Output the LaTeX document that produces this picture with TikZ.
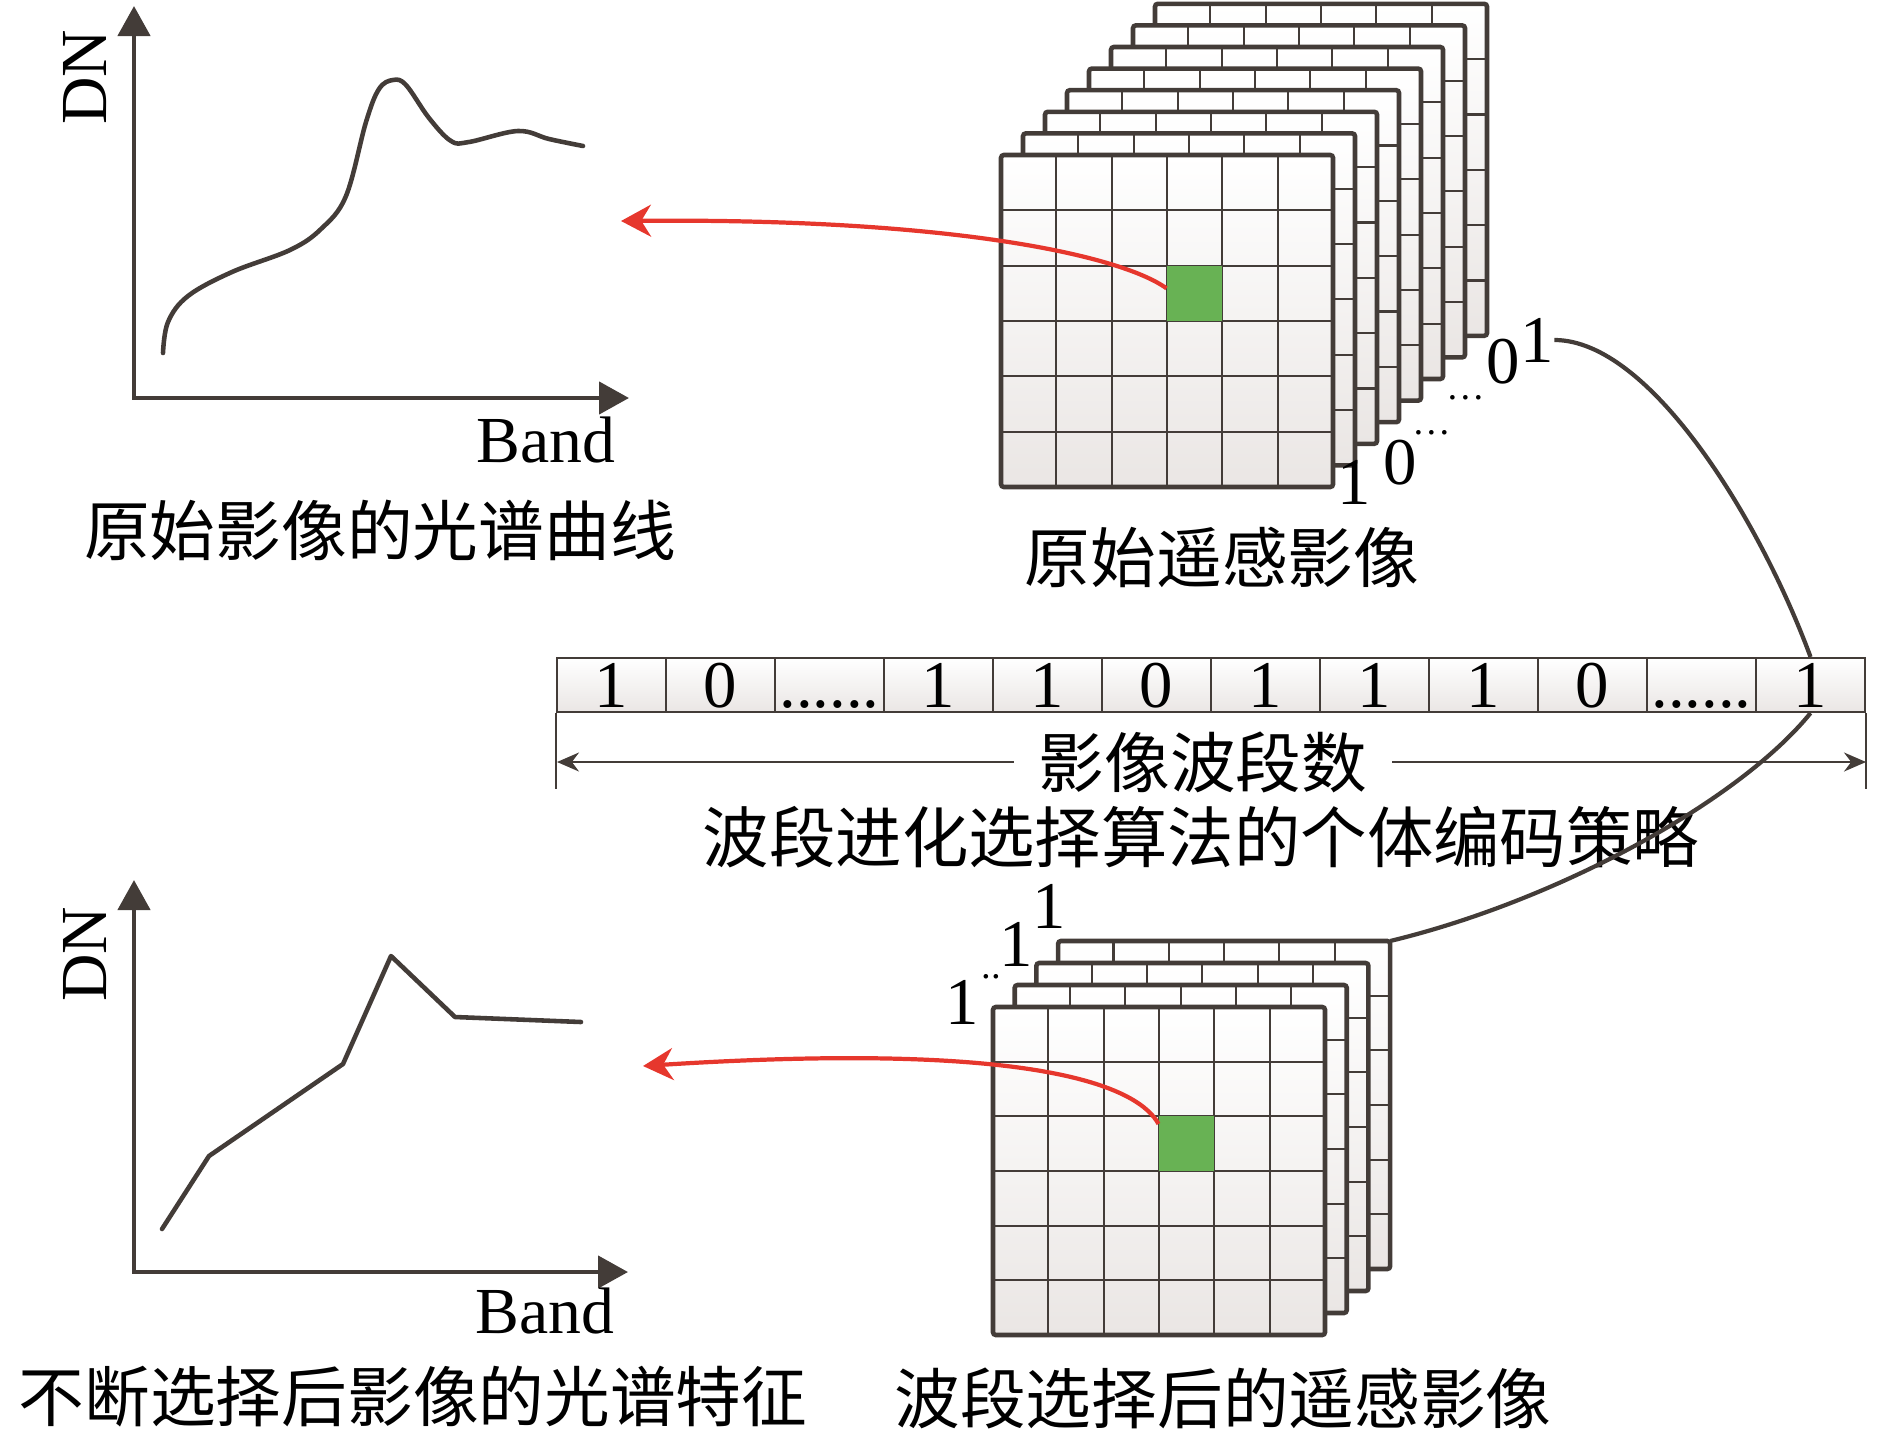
\documentclass[tikz,border=0pt]{standalone}
\usepackage{fontspec}
\setmainfont{Liberation Serif}
\newfontfamily\cjk{Noto Sans CJK SC}
\usepackage{tikz}
\usetikzlibrary{arrows.meta, calc}
\definecolor{inkgray}{RGB}{67,60,56}
\definecolor{cellgray}{RGB}{234,230,228}
\definecolor{pixgreen}{RGB}{104,178,84}
\definecolor{arrowred}{RGB}{230,55,45}
\newcommand{\captxt}{\fontsize{18.7}{20}\selectfont\cjk}
\newcommand{\digtxt}{\fontsize{19}{20}\selectfont}
\newcommand{\dottxt}{\fontsize{11}{11}\selectfont}
\newcommand{\sixdots}{......}

\begin{document}
\begin{tikzpicture}[x=0.1mm, y=-0.1mm,
  axis/.style={inkgray, line width=1.3pt, {Triangle[length=3mm, width=3.2mm]}-{Triangle[length=3mm, width=3.2mm]}},
  spec/.style={inkgray, line width=1.3pt, line cap=round, line join=round},
  frame/.style={inkgray, line width=1.3pt, rounded corners=0.8pt},
  gridline/.style={inkgray, line width=0.6pt},
  pix/.style={fill=pixgreen, minimum width=5.5mm, minimum height=5.5mm, inner sep=0pt},
  redarrow/.style={arrowred, line width=1.2pt, -{Stealth[length=3mm, width=3.2mm]}},
  link/.style={inkgray, line width=1.2pt},
  cell/.style={draw=inkgray, line width=0.6pt, top color=white, bottom color=cellgray,
    minimum width=10.9mm, minimum height=5.4mm, inner sep=0pt, text height=4.5mm, text depth=0pt, font=\digtxt},
  dim/.style={inkgray, line width=0.6pt},
  tag/.style={inner sep=0pt, font=\digtxt},
  captext/.style={font=\captxt, inner sep=0pt},
  axlabel/.style={font=\fontsize{18.7}{20}\selectfont},
]
  \useasboundingbox (0,0) rectangle (1890,1436);

  % 原始影像的光谱曲线
  \coordinate (o1) at (134,398);
  \coordinate (y1) at (134,6);
  \coordinate (x1) at (629,398);
  \draw[axis] (y1) -- (o1) -- (x1);
  \draw[spec] plot[smooth, tension=0.6] coordinates {(163,353) (168,322) (188,296) (232,272)
    (290,250) (321,229) (346,196) (366,122) (379,89) (393,80) (406,85) (429,118) (451,141)
    (469,142) (518,131) (549,139) (583,146)};
  \node[axlabel, rotate=90] (dn1) at (85,77) {DN};
  \node[axlabel] (band1) at (546,440) {Band};
  \node[captext] (cap1) at (380,530) {原始影像的光谱曲线};

  % 不断选择后影像的光谱特征
  \coordinate (o2) at (134,1272);
  \coordinate (y2) at (134,880);
  \coordinate (x2) at (628,1272);
  \draw[axis] (y2) -- (o2) -- (x2);
  \draw[spec] (162,1229) -- (209,1156) -- (343,1064) -- (391,956) -- (455,1017) -- (581,1022);
  \node[axlabel, rotate=90] (dn2) at (85,954) {DN};
  \node[axlabel] (band2) at (545,1311) {Band};
  \node[captext] (cap4) at (413,1397) {不断选择后影像的光谱特征};

  % 原始遥感影像（8 层）
  \foreach \i in {7,6,...,0}{
    \begin{scope}[shift={({1001+22*\i},{155-21.6*\i})}]
      \fill[top color=white, bottom color=cellgray] (0,0) rectangle (332,332);
      \foreach \k in {1,...,5}{
        \draw[gridline] ({55.33*\k},0) -- ({55.33*\k},332);
        \draw[gridline] (0,{55.33*\k}) -- (332,{55.33*\k});
      }
      \draw[frame] (0,0) rectangle (332,332);
      \coordinate (up\i) at (332,0);
    \end{scope}
  }
  \node[pix] (gtop) at (1194.7,293.3) {};
  \node[captext] (cap2) at (1222,557) {原始遥感影像};

  % 波段标记
  \node[tag] (s1) at (1354,482) {1};
  \node[tag] (s2) at (1400,463) {0};
  \node[tag, anchor=base, font=\dottxt] (s3) at (1432,434) {\ldots};
  \node[tag, anchor=base, font=\dottxt] (s4) at (1466,399) {\ldots};
  \node[tag] (s5) at (1503,362) {0};
  \node[tag] (s6) at (1537,340) {1};

  % 波段选择后的遥感影像（4 层）
  \foreach \i in {3,2,1,0}{
    \begin{scope}[shift={({993+21.7*\i},{1007-22*\i})}]
      \fill[top color=white, bottom color=cellgray] (0,0) rectangle (332,328);
      \foreach \k in {1,...,5}{
        \draw[gridline] ({55.33*\k},0) -- ({55.33*\k},328);
        \draw[gridline] (0,{54.67*\k}) -- (332,{54.67*\k});
      }
      \draw[frame] (0,0) rectangle (332,328);
      \coordinate (lo\i) at (332,0);
    \end{scope}
  }
  \node[pix] (gbot) at (1186.7,1143.7) {};
  \node[captext] (cap5) at (1223,1398) {波段选择后的遥感影像};

  \node[tag] (l1) at (962,1002) {1};
  \node[tag, anchor=base, font=\dottxt] (l2) at (991,978) {..};
  \node[tag] (l3) at (1016,944) {1};
  \node[tag] (l4) at (1049,906) {1};

  % 个体编码
  \foreach \v [count=\i] in {1,0,\sixdots,1,1,0,1,1,1,0,\sixdots,1}
    \node[cell] (b\i) at ({502.5+109*\i},685) {\v};

  \draw[dim] (b1.south west) -- ++(0,76);
  \draw[dim] (b12.south east) -- ++(0,76);
  \coordinate (dl) at (557,762);
  \coordinate (dr) at (1866,762);
  \draw[dim, {Stealth[length=2.2mm, width=1.9mm]}-{Stealth[length=2.2mm, width=1.9mm]}] (dl) -- (dr);
  \node[captext, fill=white, inner xsep=2.5mm, inner ysep=0.5mm] (nb) at (1203,762) {影像波段数};
  \node[captext, font=\fontsize{18.9}{20}\selectfont\cjk] (cap3) at (1201,837) {波段进化选择算法的个体编码策略};

  % 连线
  \draw[link] (s6.east) .. controls (1650,340) and (1760,520) .. (b12.north);
  \draw[link] (b12.south) .. controls (1740,800) and (1560,900) .. (lo3);

  % 红色箭头
  \coordinate (ta) at (621,221);
  \draw[redarrow] (gtop.170) .. controls (1120,255) and (950,218) .. (ta);
  \coordinate (tb) at (643,1066);
  \draw[redarrow] (gbot.145) .. controls (1140,1090) and (1050,1040) .. (tb);
\end{tikzpicture}
\end{document}
